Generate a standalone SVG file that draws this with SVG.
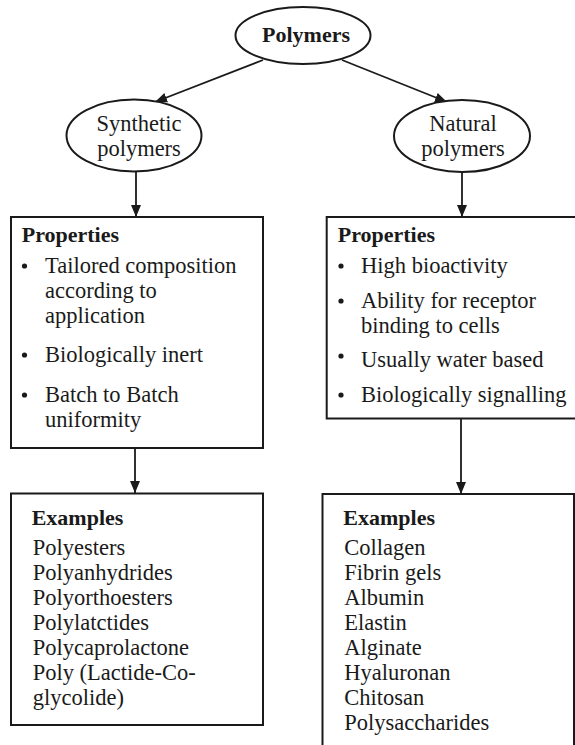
<svg xmlns="http://www.w3.org/2000/svg" width="575" height="745" viewBox="0 0 575 745">
  <style>
    .shape { fill: #ffffff; stroke: #1a1a1a; stroke-width: 2; }
    .edge { fill: none; stroke: #1a1a1a; stroke-width: 1.8; }
    text { font-family: "Liberation Serif", "Times New Roman", serif; fill: #1a1a1a; font-size: 22.5px; }
    .title { font-weight: bold; font-size: 22px; }
    .mid { text-anchor: middle; }
    .dot { fill: #1a1a1a; }
  </style>
  <defs>
    <marker id="arrow" markerUnits="userSpaceOnUse" markerWidth="12" markerHeight="12" viewBox="0 0 12 10" refX="12" refY="5" orient="auto">
      <path d="M0,0 L12,5 L0,10 Z" fill="#1a1a1a"/>
    </marker>
  </defs>
  <rect width="575" height="745" fill="#ffffff"/>

  <!-- connectors -->
  <g id="connectors">
    <line class="edge" x1="263" y1="60" x2="155" y2="102" marker-end="url(#arrow)"/>
    <line class="edge" x1="342" y1="60" x2="447" y2="102" marker-end="url(#arrow)"/>
    <line class="edge" x1="136" y1="172" x2="136" y2="217" marker-end="url(#arrow)"/>
    <line class="edge" x1="462" y1="172" x2="462" y2="217" marker-end="url(#arrow)"/>
    <line class="edge" x1="135" y1="448" x2="135" y2="493" marker-end="url(#arrow)"/>
    <line class="edge" x1="461" y1="419" x2="461" y2="494" marker-end="url(#arrow)"/>
  </g>

  <!-- root -->
  <g id="polymers">
    <ellipse class="shape" cx="303" cy="35.5" rx="67.5" ry="28.5"/>
    <text class="title mid" x="306" y="42">Polymers</text>
  </g>

  <g id="synthetic">
    <ellipse class="shape" cx="134" cy="135.5" rx="67.5" ry="36"/>
    <text class="mid" x="139" y="131">Synthetic</text>
    <text class="mid" x="139" y="156">polymers</text>
  </g>

  <g id="natural">
    <ellipse class="shape" cx="462" cy="136" rx="68" ry="36"/>
    <text class="mid" x="463" y="131">Natural</text>
    <text class="mid" x="463" y="156">polymers</text>
  </g>

  <!-- synthetic properties -->
  <g id="synthetic-properties">
    <rect class="shape" x="11" y="217" width="252" height="231"/>
    <text class="title" x="21.7" y="242">Properties</text>
    <circle class="dot" cx="24.5" cy="266" r="2.6"/>
    <text x="45" y="273.3">Tailored composition</text>
    <text x="45" y="298.3">according to</text>
    <text x="45" y="323.3">application</text>
    <circle class="dot" cx="24.5" cy="355" r="2.6"/>
    <text x="45" y="361.7">Biologically inert</text>
    <circle class="dot" cx="24.5" cy="395" r="2.6"/>
    <text x="45" y="401.7">Batch to Batch</text>
    <text x="45" y="426.7">uniformity</text>
  </g>

  <!-- natural properties -->
  <g id="natural-properties">
    <rect class="shape" x="326.7" y="217" width="260" height="201.5"/>
    <text class="title" x="337.7" y="242">Properties</text>
    <circle class="dot" cx="341" cy="266" r="2.6"/>
    <text x="361" y="273.3">High bioactivity</text>
    <circle class="dot" cx="341" cy="301" r="2.6"/>
    <text x="361" y="308.3">Ability for receptor</text>
    <text x="361" y="333.3">binding to cells</text>
    <circle class="dot" cx="341" cy="356" r="2.6"/>
    <text x="361" y="366.7">Usually water based</text>
    <circle class="dot" cx="341" cy="395" r="2.6"/>
    <text x="361" y="401.7">Biologically signalling</text>
  </g>

  <!-- synthetic examples -->
  <g id="synthetic-examples">
    <rect class="shape" x="11" y="493.5" width="252" height="231.5"/>
    <text class="title" x="31.7" y="525">Examples</text>
    <text x="32.7" y="555">Polyesters</text>
    <text x="32.7" y="580">Polyanhydrides</text>
    <text x="32.7" y="605">Polyorthoesters</text>
    <text x="32.7" y="630">Polylatctides</text>
    <text x="32.7" y="655">Polycaprolactone</text>
    <text x="32.7" y="680">Poly (Lactide-Co-</text>
    <text x="32.7" y="705">glycolide)</text>
  </g>

  <!-- natural examples -->
  <g id="natural-examples">
    <rect class="shape" x="322.5" y="494" width="251.5" height="270"/>
    <text class="title" x="343.3" y="525">Examples</text>
    <text x="344.3" y="555">Collagen</text>
    <text x="344.3" y="580">Fibrin gels</text>
    <text x="344.3" y="605">Albumin</text>
    <text x="344.3" y="630">Elastin</text>
    <text x="344.3" y="655">Alginate</text>
    <text x="344.3" y="680">Hyaluronan</text>
    <text x="344.3" y="705">Chitosan</text>
    <text x="344.3" y="730">Polysaccharides</text>
  </g>
</svg>
